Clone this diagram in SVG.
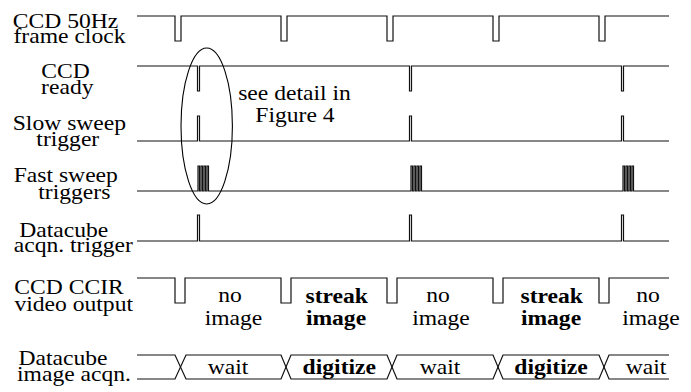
<svg xmlns="http://www.w3.org/2000/svg" width="691" height="392" viewBox="0 0 691 392">
<style>
text{font-family:"Liberation Serif","Times New Roman",serif;font-size:20px;fill:#000;text-anchor:middle}
.b{font-weight:bold}
.w{fill:none;stroke:#111;stroke-width:1.2;stroke-linejoin:miter}
</style>
<rect width="691" height="392" fill="#fff"/>
<g id="frame-clock">
<text transform="translate(65.5,27.5) scale(1.18,1)">CCD 50Hz</text>
<text transform="translate(69.5,43) scale(1.18,1)">frame clock</text>
<path class="w" d="M137,16H175V41H181V16H281V41H287V16H387V41H393V16H493V41H499V16H599V41H605V16H669"/>
</g>
<g id="ccd-ready">
<text transform="translate(65.5,78) scale(1.18,1)">CCD</text>
<text transform="translate(67.3,94) scale(1.18,1)">ready</text>
<path class="w" d="M137,66H197.5V91H199.5V66H409.5V91H411.5V66H621.5V91H623.5V66H669"/>
</g>
<g id="slow-sweep">
<text transform="translate(69.4,130) scale(1.18,1)">Slow sweep</text>
<text transform="translate(67.8,146) scale(1.18,1)">trigger</text>
<path class="w" d="M137,141H197.5V116H199.5V141H409.5V116H411.5V141H621.5V116H623.5V141H669"/>
</g>
<g id="fast-sweep">
<text transform="translate(65.8,182) scale(1.18,1)">Fast sweep</text>
<text transform="translate(74.3,199) scale(1.18,1)">triggers</text>
<path class="w" d="M137,191H198V166H199.5V191H201V166H202.5V191H204V166H205.5V191H207V166H208.5V191H411V166H412.5V191H414V166H415.5V191H417V166H418.5V191H420V166H421.5V191H623V166H624.5V191H626V166H627.5V191H629V166H630.5V191H632V166H633.5V191H669"/>
</g>
<g id="datacube-trigger">
<text transform="translate(63.7,236.5) scale(1.18,1)">Datacube</text>
<text transform="translate(73.3,252) scale(1.18,1)">acqn. trigger</text>
<path class="w" d="M137,241H197.5V215H199.5V241H409.5V215H411.5V241H621.5V215H623.5V241H669"/>
</g>
<g id="ccir-output">
<text transform="translate(69,294) scale(1.18,1)">CCD CCIR</text>
<text transform="translate(73.7,311) scale(1.18,1)">video output</text>
<path class="w" d="M137,278H175V303H185V278H281V303H291V278H387V303H397V278H493V303H503V278H599V303H609V278H669"/>
<text transform="translate(230,302) scale(1.18,1)">no</text>
<text transform="translate(233.5,325) scale(1.18,1)">image</text>
<text class="b" transform="translate(336.7,303) scale(1.18,1)">streak</text>
<text class="b" transform="translate(336,325) scale(1.18,1)">image</text>
<text transform="translate(438,302) scale(1.18,1)">no</text>
<text transform="translate(441,325) scale(1.18,1)">image</text>
<text class="b" transform="translate(551.7,303) scale(1.18,1)">streak</text>
<text class="b" transform="translate(551,325) scale(1.18,1)">image</text>
<text transform="translate(648,302) scale(1.18,1)">no</text>
<text transform="translate(651,325) scale(1.18,1)">image</text>
</g>
<g id="image-acqn">
<text transform="translate(63,365) scale(1.18,1)">Datacube</text>
<text transform="translate(74,381) scale(1.18,1)">image acqn.</text>
<path class="w" d="M137,355H175L186,379H281L291,355H387L397,379H493L503,355H599L609,379H669"/>
<path class="w" d="M137,379H175L186,355H281L291,379H387L397,355H493L503,379H599L609,355H669"/>
<text transform="translate(228,373.5) scale(1.18,1)">wait</text>
<text class="b" transform="translate(339.3,373.5) scale(1.18,1)">digitize</text>
<text transform="translate(440,373.5) scale(1.18,1)">wait</text>
<text class="b" transform="translate(551,373.5) scale(1.18,1)">digitize</text>
<text transform="translate(646,373.5) scale(1.18,1)">wait</text>
</g>
<g id="connectors">
<ellipse cx="206.7" cy="126" rx="25.7" ry="78" fill="none" stroke="#000" stroke-width="1.1"/>
<text transform="translate(294.5,100) scale(1.18,1)">see detail in</text>
<text transform="translate(295,121.5) scale(1.18,1)">Figure 4</text>
</g>
</svg>
